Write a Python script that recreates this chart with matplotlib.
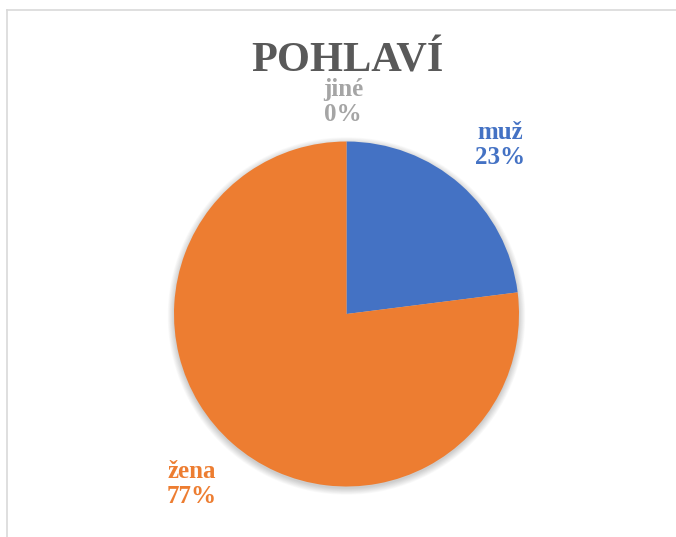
import matplotlib.pyplot as plt
from matplotlib.patches import Circle

# data
labels = ["muž", "žena", "jiné"]
values = [23, 77, 0]
colors = ["#4472C4", "#ED7D31", "#A5A5A5"]
title = "POHLAVÍ"

W, H = 676, 537
plt.rcParams['font.family'] = ['Liberation Serif', 'DejaVu Serif']

fig = plt.figure(figsize=(W / 100, H / 100), dpi=100)
ax = fig.add_axes([0, 0, 1, 1])

cx, cy, r = 346.5, H - 314, 172.5

# soft shadow behind the pie
for i in range(10):
    ax.add_patch(Circle((cx, cy - 2), r + 0.7 * i, color='black', alpha=0.018, lw=0, zorder=1))

ax.pie(values, colors=colors, startangle=90, counterclock=False, radius=r,
       center=(cx, cy), frame=True, wedgeprops=dict(linewidth=0, zorder=2))
ax.set_xlim(0, W)
ax.set_ylim(0, H)
ax.axis('off')

# chart border (top and left edges visible)
ax.plot([7, W], [H - 10, H - 10], color='#D9D9D9', lw=1.2, zorder=0)
ax.plot([7, 7], [H - 10, 0], color='#D9D9D9', lw=1.2, zorder=0)

ax.text(cx + 1, H - 71, title, ha='center', va='baseline', fontsize=30.5,
        fontweight='bold', color='#595959')

# data labels (label + percent)
label_pos = {"muž": (500, 145), "žena": (192, 484), "jiné": (343, 102)}
for lab, val, col in zip(labels, values, colors):
    x, y = label_pos[lab]
    ax.text(x, H - y, f"{lab}\n{val}%", ha='center', va='center', fontsize=18,
            fontweight='bold', color=col, linespacing=1.1)

fig.savefig("out.png", dpi=100)
